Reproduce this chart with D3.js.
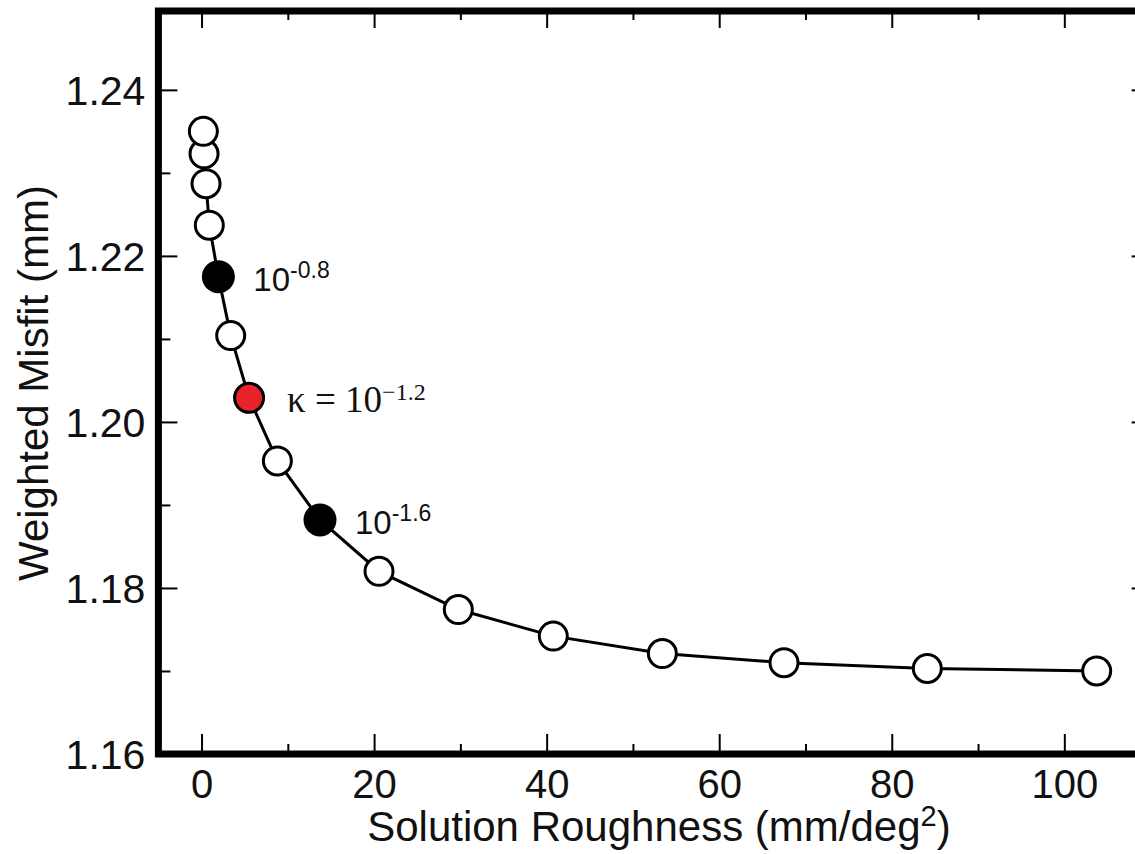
<!DOCTYPE html>
<html>
<head>
<meta charset="utf-8">
<script src="https://cdn.jsdelivr.net/npm/d3@7"></script>
<style>
  html, body { margin: 0; padding: 0; background: #fff; }
  svg { display: block; }
</style>
</head>
<body>
<svg id="chart" width="1135" height="854"></svg>
<script>
// ---- data ----
const roughness = [0.21, 0.29, 0.52, 0.90, 1.95, 3.38, 5.51, 8.79, 13.73, 20.57, 29.76, 40.77, 53.41, 67.51, 84.12, 103.75];
const misfit    = [1.2350, 1.2323, 1.2287, 1.2237, 1.2175, 1.2104, 1.2029, 1.1953, 1.1882, 1.1820, 1.1774, 1.1742, 1.1721, 1.1710, 1.1703, 1.1700];
const markerKind = ["open","open","open","open","filled","open","chosen","open","filled","open","open","open","open","open","open","open"];
const xMajorTicks = [0, 20, 40, 60, 80, 100];
const xMinorTicks = [10, 30, 50, 70, 90];
const yMajorTicks = [1.16, 1.18, 1.20, 1.22, 1.24];
const yMinorTicks = [1.17, 1.19, 1.21, 1.23];
const annotations = [
  { index: 4, prefix: "", base: "10", exp: "-0.8", serif: false },
  { index: 6, prefix: "\u03BA = ", base: "10", exp: "\u22121.2", serif: true },
  { index: 8, prefix: "", base: "10", exp: "-1.6", serif: false }
];
const xTitle = "Solution Roughness (mm/deg";
const yTitle = "Weighted Misfit (mm)";

// ---- scales ----
const x = d3.scaleLinear().domain([-5, 110]).range([158.4, 1150.6]);
const y = d3.scaleLinear().domain([1.16, 1.2495]).range([754.0, 11.0]);

const svg = d3.select("#chart");
svg.append("rect").attr("width", 1135).attr("height", 854).attr("fill", "#fff");

const sans = "'Liberation Sans', Arial, Helvetica, sans-serif";
const serif = "'Liberation Serif', 'Times New Roman', serif";
const bottomY = y(1.16), topY = y(1.2495), leftX = x(-5), rightX = x(110);

function styleAxis(g, labels, size) {
  g.select(".domain").remove();
  g.selectAll(".tick line").attr("stroke", "#000").attr("stroke-width", 2);
  if (labels) g.selectAll(".tick text").attr("fill", "#111").style("font-family", sans).style("font-size", size);
  else g.selectAll(".tick text").remove();
}

// bottom
svg.append("g").attr("transform", `translate(0,${bottomY})`)
  .call(d3.axisBottom(x).tickValues(xMajorTicks).tickSizeInner(-20).tickSizeOuter(0).tickPadding(16).tickFormat(d3.format("d")))
  .call(g => styleAxis(g, true, "40px"));
svg.append("g").attr("transform", `translate(0,${bottomY})`)
  .call(d3.axisBottom(x).tickValues(xMinorTicks).tickSizeInner(-10).tickSizeOuter(0).tickFormat(""))
  .call(g => styleAxis(g, false));
// top
svg.append("g").attr("transform", `translate(0,${topY})`)
  .call(d3.axisTop(x).tickValues(xMajorTicks).tickSizeInner(-17).tickSizeOuter(0).tickFormat(""))
  .call(g => styleAxis(g, false));
svg.append("g").attr("transform", `translate(0,${topY})`)
  .call(d3.axisTop(x).tickValues(xMinorTicks).tickSizeInner(-9).tickSizeOuter(0).tickFormat(""))
  .call(g => styleAxis(g, false));
// left
svg.append("g").attr("class", "yaxis").attr("transform", `translate(${leftX},0)`)
  .call(d3.axisLeft(y).tickValues(yMajorTicks).tickSizeInner(-19).tickSizeOuter(0).tickPadding(13).tickFormat(d3.format(".2f")))
  .call(g => styleAxis(g, true, "41px"));
svg.append("g").attr("transform", `translate(${leftX},0)`)
  .call(d3.axisLeft(y).tickValues(yMinorTicks).tickSizeInner(-12).tickSizeOuter(0).tickFormat(""))
  .call(g => styleAxis(g, false));
// right
svg.append("g").attr("transform", `translate(${rightX},0)`)
  .call(d3.axisRight(y).tickValues(yMajorTicks).tickSizeInner(-19).tickSizeOuter(0).tickFormat(""))
  .call(g => styleAxis(g, false));
svg.append("g").attr("transform", `translate(${rightX},0)`)
  .call(d3.axisRight(y).tickValues(yMinorTicks).tickSizeInner(-12).tickSizeOuter(0).tickFormat(""))
  .call(g => styleAxis(g, false));

svg.selectAll(".yaxis .tick text").attr("dy", "0.36em");

// frame
svg.append("rect")
  .attr("x", leftX).attr("y", topY)
  .attr("width", rightX - leftX).attr("height", bottomY - topY)
  .attr("fill", "none").attr("stroke", "#000").attr("stroke-width", 7);

// axis titles
const xt = svg.append("text")
  .attr("x", (x(0) + x(100)) / 2 + 26).attr("y", 841)
  .attr("text-anchor", "middle")
  .style("font-family", sans).style("font-size", "42px").attr("fill", "#111");
xt.append("tspan").text(xTitle);
xt.append("tspan").attr("dy", -15).style("font-size", "29px").text("2");
xt.append("tspan").attr("dy", 15).text(")");

svg.append("text")
  .attr("transform", `translate(48,${383}) rotate(-90)`)
  .attr("text-anchor", "middle")
  .style("font-family", sans).style("font-size", "42px").attr("fill", "#111")
  .text(yTitle);

// line
const pts = roughness.map((r, i) => [r, misfit[i]]);
svg.append("path")
  .datum(pts)
  .attr("fill", "none").attr("stroke", "#000").attr("stroke-width", 3)
  .attr("d", d3.line().x(d => x(d[0])).y(d => y(d[1])));

// markers (first point on top)
const order = d3.range(pts.length).reverse();
svg.append("g").selectAll("circle").data(order).join("circle")
  .attr("cx", i => x(roughness[i]))
  .attr("cy", i => y(misfit[i]))
  .attr("r", i => markerKind[i] === "filled" ? 16.5 : (markerKind[i] === "chosen" ? 14.5 : 14))
  .attr("fill", i => markerKind[i] === "filled" ? "#000" : (markerKind[i] === "chosen" ? "#e8232a" : "#fff"))
  .attr("stroke", "#000")
  .attr("stroke-width", i => markerKind[i] === "filled" ? 0 : 3);

// annotations
annotations.forEach(a => {
  const px = x(roughness[a.index]) + (a.serif ? 38 : 35);
  const py = y(misfit[a.index]) + 14;
  const t = svg.append("text").attr("x", px).attr("y", py)
    .style("font-family", a.serif ? serif : sans)
    .style("font-size", a.serif ? "37px" : "33px").attr("fill", "#111");
  if (a.prefix) t.append("tspan").text(a.prefix);
  t.append("tspan").text(a.base);
  t.append("tspan").attr("dy", a.serif ? -12 : -13).style("font-size", a.serif ? "24px" : "23px").text(a.exp);
});
</script>
</body>
</html>
